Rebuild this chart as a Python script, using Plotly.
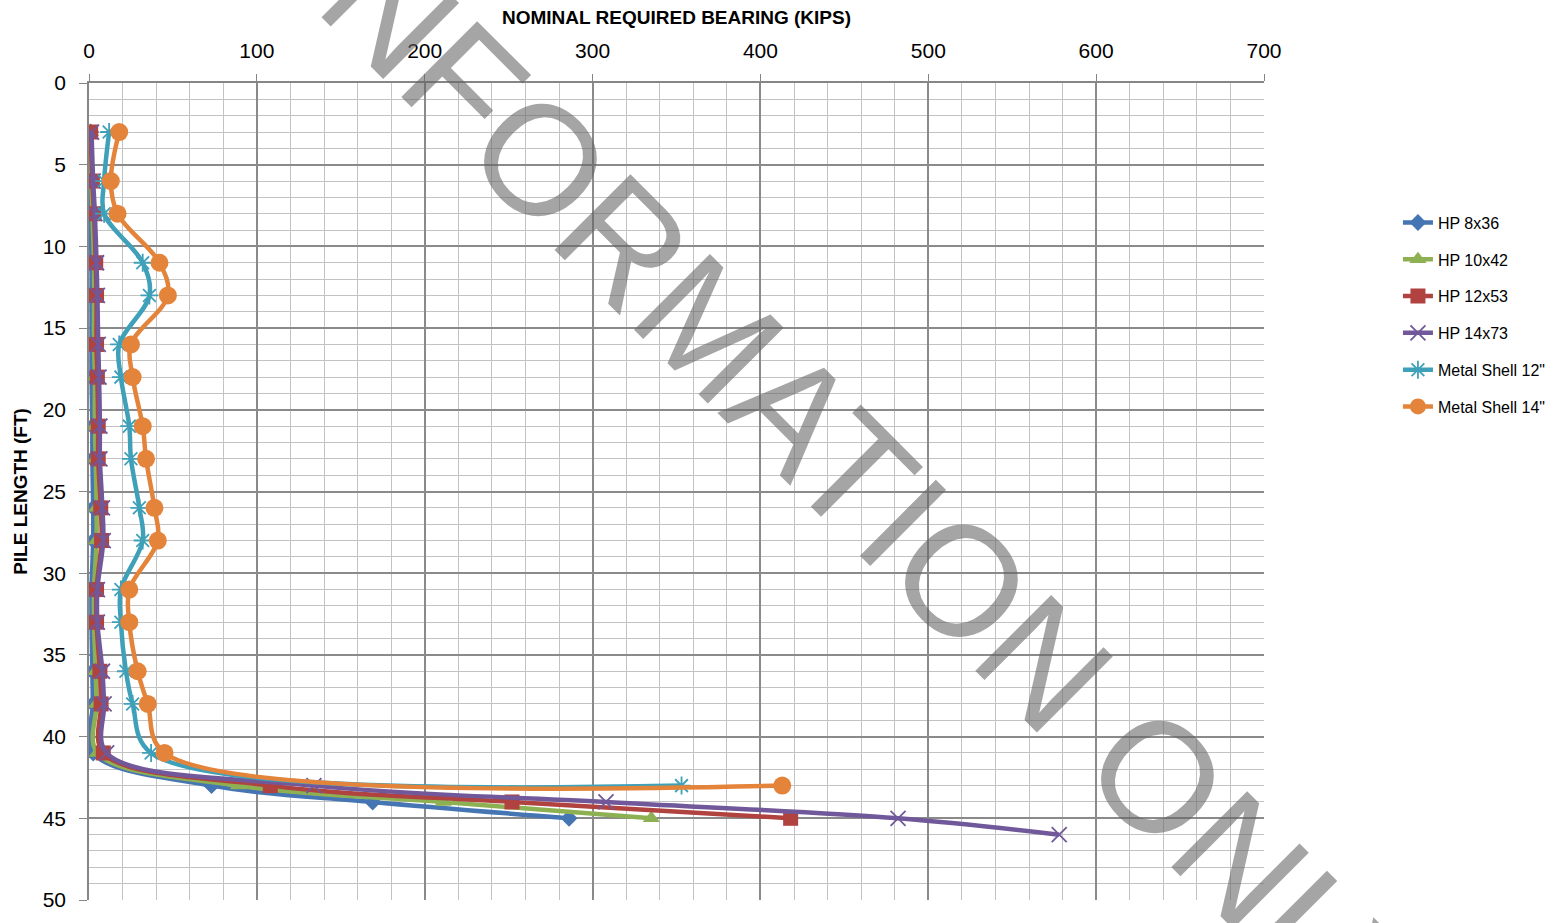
import plotly.graph_objects as go

# ---- data ----
depth_hp = [3, 6, 8, 11, 13, 16, 18, 21, 23, 26, 28, 31, 33, 36, 38, 41, 43, 44, 45]
depth_hp14 = [3, 6, 8, 11, 13, 16, 18, 21, 23, 26, 28, 31, 33, 36, 38, 41, 43, 44, 45, 46]
depth_ms = [3, 6, 8, 11, 13, 16, 18, 21, 23, 26, 28, 31, 33, 36, 38, 41, 43]

hp8x36 = [1, 1, 1, 1.5, 1.5, 1.5, 1.5, 2, 2, 2.5, 2.5, 1.5, 1.5, 2, 2.3, 2.5, 73, 169, 286]
hp10x42 = [1, 1.5, 2, 3, 3, 3, 3.5, 3.5, 4, 4.5, 4.5, 3, 3, 4, 4.5, 5, 89, 211, 335]
hp12x53 = [1, 2, 3, 4, 4.5, 4.5, 5, 5.5, 5.5, 7, 7.5, 4.5, 4.5, 6.5, 7.2, 8.5, 108, 252, 418]
hp14x73 = [1.5, 2.5, 3.5, 4.5, 5, 5.5, 6, 6.5, 6.5, 8, 8.5, 5, 5, 8, 9, 10.5, 134, 308, 482, 578]
ms12 = [12, 9, 9, 32, 36, 18, 19, 24, 25, 30, 32, 19, 19, 22, 26, 37, 353]
ms14 = [18, 13, 17, 42, 47, 25, 26, 32, 34, 39, 41, 24, 24, 29, 35, 45, 413]

x_ticks = [0, 100, 200, 300, 400, 500, 600, 700]
y_ticks = [0, 5, 10, 15, 20, 25, 30, 35, 40, 45, 50]

series = [
    ("HP 8x36", hp8x36, depth_hp, "#4675B3", dict(symbol="diamond", size=13)),
    ("HP 10x42", hp10x42, depth_hp, "#8DB152", dict(symbol="triangle-up", size=15)),
    ("HP 12x53", hp12x53, depth_hp, "#B0423F", dict(symbol="square", size=15)),
    ("HP 14x73", hp14x73, depth_hp14, "#71589A",
     dict(symbol="x-thin-open", size=15, line=dict(width=1.8, color="#71589A"))),
    ("Metal Shell 12\"", ms12, depth_ms, "#3EA0B9",
     dict(symbol="asterisk-open", size=15, line=dict(width=1.8, color="#3EA0B9"))),
    ("Metal Shell 14\"", ms14, depth_ms, "#E3843A", dict(symbol="circle", size=18)),
]

FONT = "Liberation Sans"

fig = go.Figure()
for i, (name, xs, ys, color, mk) in enumerate(series):
    mk = dict(mk)
    mk["color"] = color
    fig.add_trace(go.Scatter(
        x=xs, y=ys, name=name, mode="lines+markers",
        line=dict(color=color, width=4.5, shape="spline", smoothing=1),
        marker=mk, legendgroup="g%d" % i,
    ))

fig.update_layout(
    width=1566, height=923,
    margin=dict(l=89, r=302, t=83, b=13),
    paper_bgcolor="white", plot_bgcolor="white",
    font=dict(family=FONT, color="black"),
    showlegend=True,
    legend=dict(x=1.114, y=0.85, xanchor="left", yanchor="top",
                font=dict(size=16, family=FONT), tracegroupgap=13,
                bgcolor="rgba(0,0,0,0)"),
    xaxis=dict(
        side="top", range=[0, 700], tickvals=x_ticks,
        ticktext=[str(v) for v in x_ticks],
        tickfont=dict(size=21), ticks="outside", ticklen=7, tickcolor="#868686",
        showgrid=True, gridcolor="#8a8a8a", gridwidth=1.5,
        minor=dict(dtick=20, showgrid=True, gridcolor="#c3c3c3", gridwidth=1.3, ticks=""),
        showline=True, linecolor="#868686", linewidth=1.5,
        zeroline=False, ticklabelstandoff=8,
        title=dict(text="<b>NOMINAL REQUIRED BEARING (KIPS)</b>", font=dict(size=19), standoff=9),
    ),
    yaxis=dict(
        range=[50, 0], tickvals=y_ticks,
        ticktext=[str(v) for v in y_ticks],
        tickfont=dict(size=21), ticks="outside", ticklen=8, tickcolor="#868686",
        showgrid=True, gridcolor="#8a8a8a", gridwidth=1.5,
        minor=dict(dtick=1, showgrid=True, gridcolor="#c3c3c3", gridwidth=1.3, ticks=""),
        showline=True, linecolor="#868686", linewidth=1.5,
        zeroline=False, ticklabelstandoff=9,
        title=dict(text="<b>PILE LENGTH (FT)</b>", font=dict(size=19), standoff=10),
    ),
)

fig.add_annotation(
    text="FOR INFORMATION ONLY", xref="paper", yref="paper",
    x=0.547, y=0.672, xanchor="center", yanchor="middle",
    textangle=45, showarrow=False,
    font=dict(size=156, family=FONT, color="rgba(100,100,100,0.58)"),
)

fig.write_html("out.html")
